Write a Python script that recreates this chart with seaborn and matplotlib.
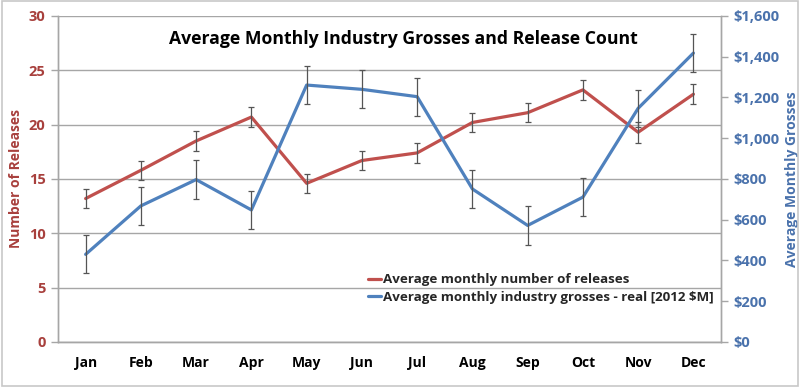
import numpy as np
import pandas as pd
import matplotlib
matplotlib.use("Agg")
import matplotlib.pyplot as plt
import seaborn as sns
from matplotlib.ticker import FuncFormatter, FixedLocator
from matplotlib.lines import Line2D
from matplotlib.patches import Rectangle

# data
months = ["Jan", "Feb", "Mar", "Apr", "May", "Jun",
          "Jul", "Aug", "Sep", "Oct", "Nov", "Dec"]
releases = [13.2, 15.8, 18.5, 20.7, 14.6, 16.7, 17.4, 20.2, 21.1, 23.2, 19.3, 22.8]
releases_err = [0.9, 0.9, 0.9, 0.95, 0.9, 0.9, 0.9, 0.85, 0.9, 0.9, 0.95, 0.9]
grosses = [430, 668, 797, 648, 1261, 1240, 1204, 751, 572, 711, 1147, 1418]
grosses_err = [93, 94, 94, 94, 94, 94, 93, 94, 95, 92, 90, 95]

RED = "#C0504D"
BLUE = "#4F81BD"
RED_TXT = "#A8403D"
BLUE_TXT = "#4A72AC"
GRID = "#A6A6A6"

sns.set_style("white")
plt.rcParams["font.family"] = ["Open Sans", "DejaVu Sans"]
plt.rcParams["font.weight"] = "bold"

df = pd.DataFrame({"pos": np.arange(len(months)), "month": months,
                   "releases": releases, "grosses": grosses})

fig = plt.figure(figsize=(8, 3.87), dpi=100)
ax = fig.add_axes([0.0725, 0.1163, 0.8288, 0.8424])
ax2 = ax.twinx()

# left axis: releases
sns.lineplot(data=df, x="pos", y="releases", ax=ax, color=RED, lw=2.3,
             zorder=3, legend=False)
ax.errorbar(df["pos"], df["releases"], yerr=releases_err, fmt="none",
            ecolor="#555555", elinewidth=0.9, capsize=2.5, capthick=0.9, zorder=4)

# right axis: grosses
sns.lineplot(data=df, x="pos", y="grosses", ax=ax2, color=BLUE, lw=2.3,
             zorder=3, legend=False)
ax2.errorbar(df["pos"], df["grosses"], yerr=grosses_err, fmt="none",
             ecolor="#555555", elinewidth=0.9, capsize=2.5, capthick=0.9, zorder=4)

ax.set_xlim(-0.5, len(months) - 0.5)
ax.set_ylim(0, 30)
ax2.set_ylim(0, 1600)

ax.yaxis.set_major_locator(FixedLocator([0, 5, 10, 15, 20, 25, 30]))
ax2.yaxis.set_major_locator(FixedLocator(np.arange(0, 1601, 200)))
ax2.yaxis.set_major_formatter(FuncFormatter(lambda v, p: "\\$" + format(int(v), ",")))

ax.grid(axis="y", color=GRID, lw=1)
ax.set_axisbelow(True)

# month labels centred, tick marks on category boundaries
ax.set_xticks(np.arange(len(months)))
ax.set_xticklabels(months, fontsize=10, fontweight="bold", color="black")
ax.set_xticks(np.arange(-0.5, len(months)), minor=True)
ax.tick_params(axis="x", which="major", length=0, pad=10)
ax.tick_params(axis="x", which="minor", length=5, color=GRID, width=1, direction="out")

ax.tick_params(axis="y", length=5, color=GRID, width=1, direction="out",
               labelsize=10.5, labelcolor=RED_TXT, pad=4, left=True)
ax2.tick_params(axis="y", length=5, color=GRID, width=1, direction="out",
                labelsize=10.5, labelcolor=BLUE_TXT, pad=4, right=True)
for t in ax.get_yticklabels() + ax2.get_yticklabels():
    t.set_fontweight("bold")

for a in (ax, ax2):
    a.spines["top"].set_visible(False)
    for s in ("left", "right", "bottom"):
        a.spines[s].set_color(GRID)
        a.spines[s].set_linewidth(1)

ax.set_xlabel("")
ax.set_ylabel("Number of Releases", color=RED_TXT, fontsize=10,
              fontweight="bold", labelpad=4)
ax2.set_ylabel("Average Monthly Grosses", color=BLUE_TXT, fontsize=10,
               fontweight="bold", labelpad=4)

ax.text(0.521, 0.93, "Average Monthly Industry Grosses and Release Count",
        transform=ax.transAxes, ha="center", va="center",
        fontsize=12.7, fontweight="bold", color="black")

handles = [Line2D([], [], color=RED, lw=2.3),
           Line2D([], [], color=BLUE, lw=2.3)]
labels = ["Average monthly number of releases",
          "Average monthly industry grosses - real [2012 \\$M]"]
ax2.legend(handles, labels, loc="lower left", bbox_to_anchor=(0.459, 0.1),
           frameon=False, handlelength=1.0, handletextpad=0.15,
           labelspacing=0.35, borderaxespad=0,
           prop={"size": 9.6, "weight": "bold"})

fig.patches.append(Rectangle((0.002, 0.003), 0.996, 0.994, transform=fig.transFigure,
                             fill=False, edgecolor="#C8C8C8", lw=1.2))

fig.savefig("out.png", dpi=100)
